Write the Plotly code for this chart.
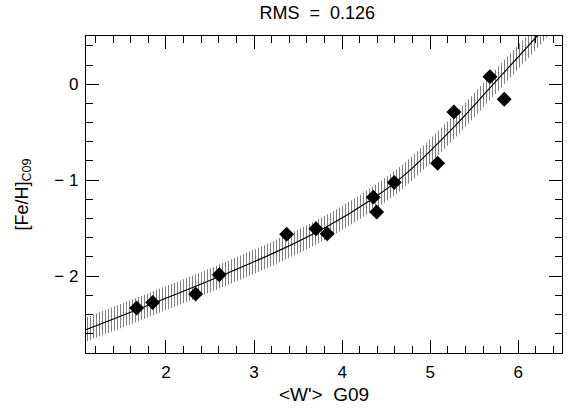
import plotly.graph_objects as go

# measured points
w_prime = [1.667, 1.849, 2.337, 2.605, 3.37, 3.703, 3.831, 4.353, 4.392, 4.591, 5.084, 5.269, 5.678, 5.84]
fe_h = [-2.333, -2.275, -2.188, -1.986, -1.563, -1.507, -1.559, -1.177, -1.333, -1.025, -0.823, -0.289, 0.079, -0.156]

# calibration curve
curve_x = [1.0, 1.7, 2.6, 3.3, 3.82, 4.35, 4.7, 5.26, 5.75, 6.24, 6.6]
curve_y = [-2.59, -2.34, -2.007, -1.727, -1.488, -1.191, -0.953, -0.455, 0.035, 0.53, 0.92]
rms = 0.126

x_tick_vals = [2, 3, 4, 5, 6]
x_tick_text = ["2", "3", "4", "5", "6"]
y_tick_vals = [-2, -1, 0]
y_tick_text = ["\u2212 2", "\u2212 1", "0"]

upper = [v + rms for v in curve_y]
lower = [v - rms for v in curve_y]

FONT = "Liberation Sans"

fig = go.Figure()
fig.add_trace(go.Scatter(x=curve_x, y=lower, mode="lines", line=dict(width=0, shape="spline"),
                         hoverinfo="skip", showlegend=False))
fig.add_trace(go.Scatter(x=curve_x, y=upper, mode="lines", line=dict(width=0, shape="spline"),
                         fill="tonexty", fillcolor="rgba(0,0,0,0)",
                         fillpattern=dict(shape="|", size=3, solidity=0.34, fgcolor="black", bgcolor="white"),
                         hoverinfo="skip", showlegend=False))
fig.add_trace(go.Scatter(x=curve_x, y=curve_y, mode="lines", line=dict(color="black", width=1.2, shape="spline"),
                         showlegend=False))
fig.add_trace(go.Scatter(x=w_prime, y=fe_h, mode="markers",
                         marker=dict(symbol="diamond", size=11.5, color="black", line=dict(width=0)),
                         showlegend=False))

axis_common = dict(
    showgrid=False, zeroline=False, showline=True, linecolor="black", linewidth=1.3,
    mirror="allticks", ticks="inside", ticklen=13, tickwidth=1.1, tickcolor="black",
    tickfont=dict(family=FONT, size=17, color="black"), automargin=False,
)

fig.update_xaxes(range=[1.092, 6.496], tickvals=x_tick_vals, ticktext=x_tick_text, ticklabelstandoff=3,
                 minor=dict(dtick=0.2, tick0=0, ticks="inside", ticklen=7, tickwidth=1, tickcolor="black"),
                 title=dict(text="&lt;W'&gt;  G09", font=dict(family=FONT, size=19, color="black"), standoff=7),
                 **axis_common)
fig.update_yaxes(range=[-2.802, 0.503], tickvals=y_tick_vals, ticktext=y_tick_text, ticklabelstandoff=3,
                 minor=dict(dtick=0.2, tick0=0, ticks="inside", ticklen=7, tickwidth=1, tickcolor="black"),
                 title=dict(text="[Fe/H]<sub>C09</sub>", font=dict(family=FONT, size=18, color="black"), standoff=21),
                 **axis_common)

fig.update_layout(
    width=577, height=412,
    margin=dict(l=86, r=15, t=36, b=59),
    plot_bgcolor="white", paper_bgcolor="white",
    title=dict(text="RMS  =  0.126", x=0.55, xanchor="center", y=0.968, yanchor="middle",
               font=dict(family=FONT, size=18, color="black")),
)

fig.write_html("out.html", config={"displayModeBar": False},
               post_script="document.body.style.margin='0';")
